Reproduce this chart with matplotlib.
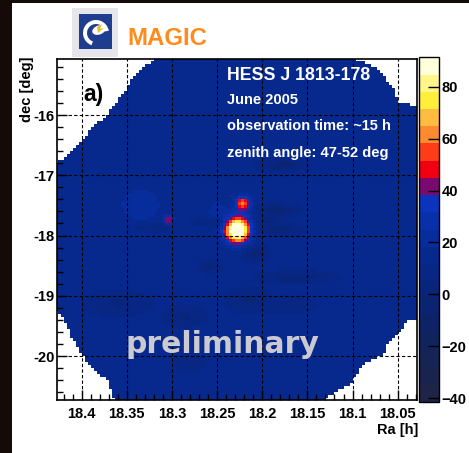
'''MAGIC sky map of HESS J1813-178.'''

import numpy as np
import matplotlib
matplotlib.use('Agg')
import matplotlib.pyplot as plt
import matplotlib.patches as mpatches
from matplotlib.colors import ListedColormap, Normalize
from matplotlib.path import Path
from matplotlib.ticker import MultipleLocator, FormatStrFormatter

plt.rcParams['font.family'] = ['Liberation Sans', 'DejaVu Sans']
plt.rcParams['font.weight'] = 'bold'

# Colour scale, 20 levels like the ROOT palette of the original.
z_min, z_max = -41.3, 91.3
level_colors = ['#1e2448', '#1a234e', '#152355', '#11235d', '#0e2366', '#0b2470',
                '#09257a', '#082784', '#07298e', '#072c9b', '#0930aa', '#0b34bc',
                '#7a0a70', '#f00010', '#ff3c18', '#ff8a30', '#ffbc40', '#ffef3a',
                '#fff58a', '#ffffdc']
cbar_ticks = [-40, -20, 0, 20, 40, 60, 80]

# Map binning (Ra in hours, dec in degrees).
ra_edges = np.linspace(18.02, 18.44, 127)
dec_edges = np.linspace(-20.80, -15.00, 117)
background_level = 13

# Features: Ra [h], dec [deg], amplitude, width in Ra and dec [deg].
feat_ra = [18.2274, 18.221, 18.30333, 18.335, 18.250,
           18.177, 18.184, 18.180, 18.208, 18.162, 18.250, 18.193, 18.258, 18.322,
           18.360, 18.216, 18.285, 18.171, 18.280]
feat_dec = [-17.905, -17.477, -17.75, -17.50, -17.65,
            -16.83, -17.577, -17.909, -18.29, -18.69, -17.79, -17.76, -18.51, -17.86,
            -19.12, -19.07, -19.34, -19.15, -20.12]
feat_amp = [100, 48, 37, 10, 8,
            -16, -16, -14, -14, -12, -14, -12, -10, -8,
            -9, -9, -9, -8, -8]
feat_wra = [0.14, 0.09, 0.05, 0.28, 0.15,
            0.22, 0.20, 0.20, 0.12, 0.35, 0.22, 0.15, 0.12, 0.22,
            0.30, 0.20, 0.20, 0.25, 0.15]
feat_wdec = [0.14, 0.085, 0.05, 0.22, 0.20,
             0.05, 0.05, 0.05, 0.08, 0.06, 0.05, 0.05, 0.06, 0.05,
             0.12, 0.12, 0.10, 0.08, 0.08]

# Edge of the camera field of view (Ra [h], dec [deg]).
fov_ra = [18.312, 18.112, 18.083, 18.070, 18.064, 18.056, 18.053, 18.050, 18.020,
          18.020, 18.040, 18.050, 18.061, 18.066, 18.090, 18.103, 18.117, 18.128, 18.131,
          18.363, 18.371, 18.388, 18.399, 18.404, 18.410, 18.421, 18.440,
          18.440, 18.422, 18.415, 18.407, 18.399, 18.391, 18.385, 18.374, 18.369,
          18.363, 18.358, 18.352, 18.347, 18.339, 18.330]
fov_dec = [-15.00, -15.00, -15.14, -15.25, -15.39, -15.54, -15.64, -15.78, -15.87,
           -19.35, -19.43, -19.65, -19.80, -19.98, -20.15, -20.48, -20.59, -20.69, -20.80,
           -20.80, -20.40, -20.23, -20.01, -19.88, -19.73, -19.37, -19.12,
           -16.83, -16.76, -16.66, -16.55, -16.42, -16.25, -16.15, -16.05, -15.93,
           -15.83, -15.70, -15.59, -15.45, -15.32, -15.19]

# Build the map from the features.
ra_c = (ra_edges[:-1] + ra_edges[1:]) / 2
dec_c = (dec_edges[:-1] + dec_edges[1:]) / 2
RA, DEC = np.meshgrid(ra_c, dec_c)
z = np.full(RA.shape, float(background_level))
for r0, d0, amp, wr, wd in zip(feat_ra, feat_dec, feat_amp, feat_wra, feat_wdec):
    z += amp * np.exp(-0.5 * (((RA - r0) * 15 / wr) ** 2 + ((DEC - d0) / wd) ** 2))
fov = Path(np.column_stack([fov_ra, fov_dec]))
inside = fov.contains_points(np.column_stack([RA.ravel(), DEC.ravel()])).reshape(RA.shape)
z = np.where(inside, z, np.nan)

cmap = ListedColormap(level_colors)
cmap.set_over(level_colors[-1])
cmap.set_under(level_colors[0])
cmap.set_bad('white')

W, H = 469, 453
fig = plt.figure(figsize=(W / 100, H / 100), dpi=100)
fig.patch.set_facecolor('white')

# Background layer in pixel units: slide border and MAGIC logo.
bg = fig.add_axes([0, 0, 1, 1], zorder=-1)
bg.set_xlim(0, W)
bg.set_ylim(H, 0)
bg.axis('off')
bg.add_patch(mpatches.Rectangle((0, 0), 12, H, fc='#140a08', ec='none'))
bg.add_patch(mpatches.Rectangle((0, 0), W, 3, fc='#140a08', ec='none'))
bg.add_patch(mpatches.Rectangle((72, 8), 46, 49, fc='#e6e6ea', ec='none'))
bg.add_patch(mpatches.Rectangle((79, 14), 33, 35, fc='#1f3d8f', ec='none'))
bg.add_patch(mpatches.Wedge((96, 33), 13, 110, 350, width=4, fc='white', ec='none'))
bg.add_patch(mpatches.Ellipse((99, 30), 14, 9, angle=-20, fc='white', ec='none'))
bg.add_patch(mpatches.Polygon([(97, 27), (102, 24), (100, 29), (104, 28), (98, 33)],
                              fc='#e8c020', ec='none'))
bg.text(127, 45, 'MAGIC', color='#ff8c1a', fontsize=17.3, fontweight='bold',
        ha='left', va='baseline')

# Sky map.
ax = fig.add_axes([57 / W, 1 - 400 / H, 360 / W, 341 / H])
ax.set_facecolor('white')
mesh = ax.pcolormesh(ra_edges, dec_edges, z, cmap=cmap,
                     norm=Normalize(z_min, z_max), shading='flat')
ax.set_xlim(18.4274, 18.0286)
ax.set_ylim(-20.73, -15.07)

ax.xaxis.set_major_locator(MultipleLocator(0.05))
ax.xaxis.set_minor_locator(MultipleLocator(0.01))
ax.xaxis.set_major_formatter(FormatStrFormatter('%g'))
ax.yaxis.set_major_locator(MultipleLocator(1))
ax.yaxis.set_minor_locator(MultipleLocator(0.2))
ax.yaxis.set_major_formatter(FormatStrFormatter('%g'))
ax.tick_params(which='both', direction='in', top=False, right=False,
               labelsize=10.5, width=1, color='black')
ax.tick_params(which='major', length=7)
ax.tick_params(which='minor', length=4)
ax.tick_params(axis='x', pad=5)
ax.tick_params(axis='y', pad=1.5)
for lab in ax.get_xticklabels() + ax.get_yticklabels():
    lab.set_fontweight('bold')
ax.set_axisbelow(False)
ax.grid(True, which='major', color='black', linestyle=(0, (3, 2)), linewidth=0.8)
for sp in ax.spines.values():
    sp.set_linewidth(1.2)

tx = (227 - 57) / 360
ax.text(tx, 1 - (80.5 - 59) / 341, 'HESS J 1813-178', transform=ax.transAxes,
        color='white', fontsize=12.8, fontweight='bold', va='baseline', ha='left')
ax.text(tx, 1 - (104 - 59) / 341, 'June 2005', transform=ax.transAxes,
        color='white', fontsize=10.5, fontweight='bold', va='baseline', ha='left')
ax.text(tx, 1 - (130 - 59) / 341, 'observation time: ~15 h', transform=ax.transAxes,
        color='white', fontsize=10.5, fontweight='bold', va='baseline', ha='left')
ax.text(tx, 1 - (156.5 - 59) / 341, 'zenith angle: 47-52 deg', transform=ax.transAxes,
        color='white', fontsize=10.5, fontweight='bold', va='baseline', ha='left')
ax.text((83 - 57) / 360, 1 - (101 - 59) / 341, 'a)', transform=ax.transAxes,
        color='black', fontsize=16.5, fontweight='bold', va='baseline', ha='left')
ax.text((222 - 57) / 360, 1 - (353 - 59) / 341, 'preliminary', transform=ax.transAxes,
        color='#cacad0', fontsize=21.5, fontweight='bold', va='baseline', ha='center',
        family='DejaVu Sans')

# Axis titles, ROOT style.
fig.text(27 / W, 1 - 57 / H, 'dec [deg]', rotation=90, ha='center', va='top',
         fontsize=10.5, fontweight='bold')
fig.text(418 / W, 1 - 430 / H, 'Ra [h]', ha='right', va='center',
         fontsize=10.5, fontweight='bold')

# Colour bar.
cax = fig.add_axes([419 / W, 1 - 401.7 / H, 20 / W, 344.4 / H])
cb = fig.colorbar(mesh, cax=cax, ticks=cbar_ticks)
cb.outline.set_linewidth(1.0)
cax.tick_params(direction='in', length=8, width=1, labelsize=10.5, pad=2)
for lab in cax.get_yticklabels():
    lab.set_fontweight('bold')

fig.savefig('out.png', dpi=100)
